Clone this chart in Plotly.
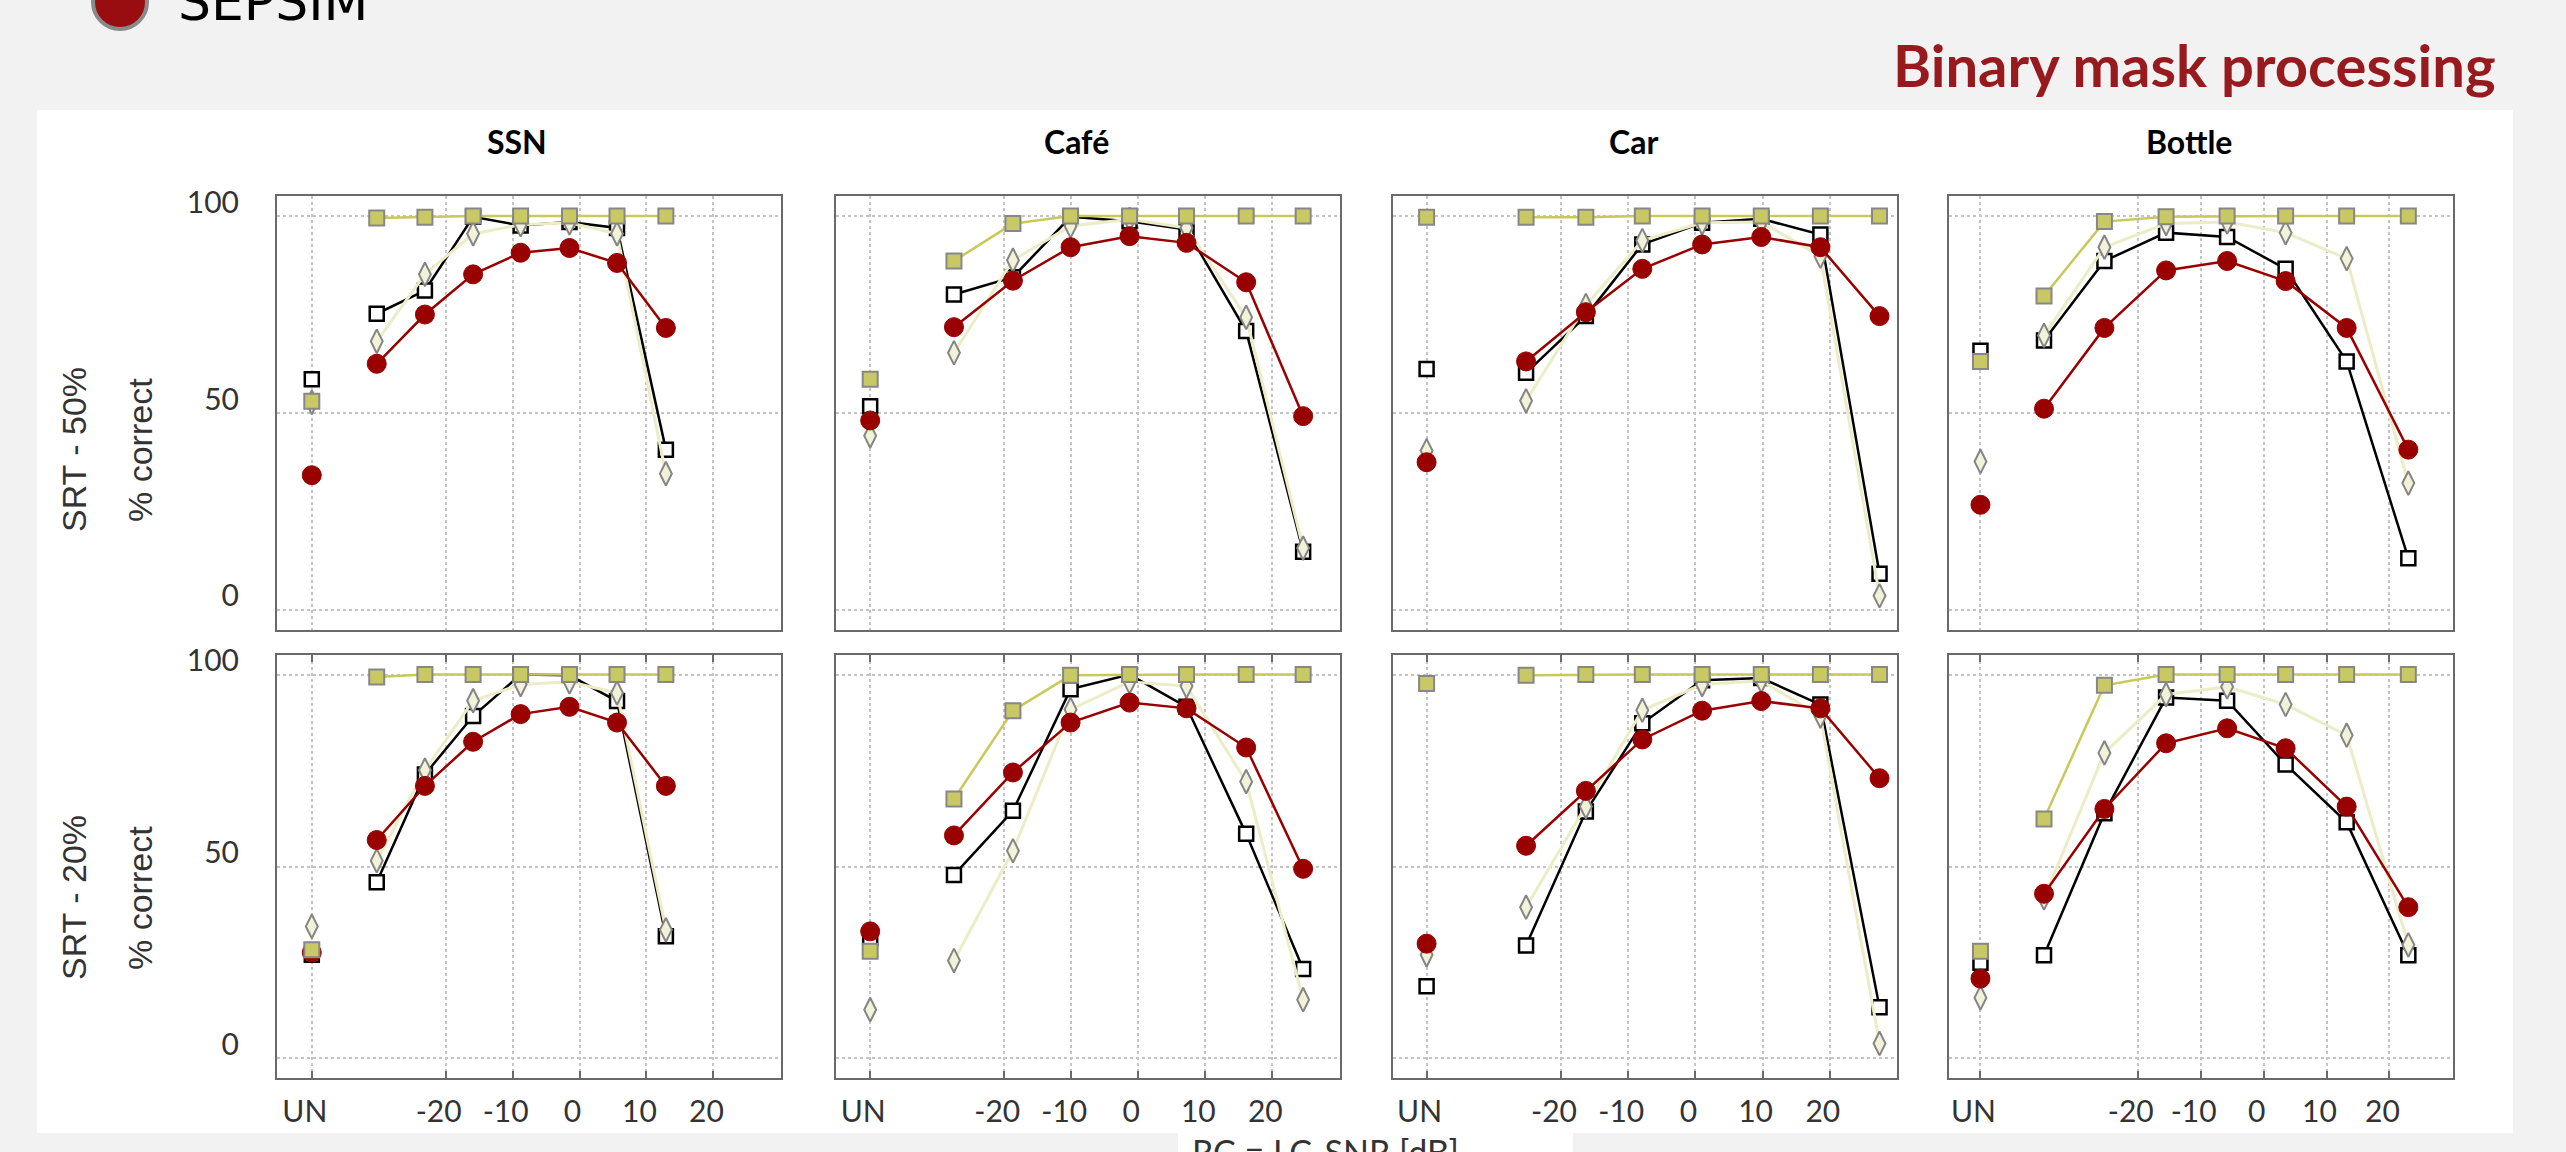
import plotly.graph_objects as go

# ---------------- data ----------------
noise_types = ["SSN", "Café", "Car", "Bottle"]
row_labels = ["SRT - 50%", "SRT - 20%"]
y_title = "% correct"
x_title = "RC = LC-SNR [dB]"
tick_text = ["UN", "-20", "-10", "0", "10", "20"]
tick_numbers = [-20, -10, 0, 10, 20]

# RC values (dB) of the seven processed conditions, per noise type
rc_ssn = [-30.3, -23.1, -15.9, -8.8, -1.5, 5.6, 12.9]
rc_cafe = [-27.5, -18.7, -10.1, -1.3, 7.2, 16.1, 24.6]
rc_car = [-25.2, -16.3, -7.9, 1.0, 9.8, 18.6, 27.4]
rc_bottle = [-34.9, -25.3, -15.5, -5.8, 3.5, 13.2, 23.0]
# position of the unprocessed (UN) condition on each x axis
un_position = [-40, -40, -40, -45]
x_min = [-45.2, -45.1, -45.0, -50.0]
x_max = [30.1, 30.1, 30.0, 30.1]

# % correct; first value = UN condition, then the seven RC conditions
# --- SRT - 50% ---
srt50_ssn_yellow = [53.0, 99.5, 99.7, 100, 100, 100, 100, 100]
srt50_ssn_black = [58.6, 75.2, 81.1, 99.8, 97.6, 98.5, 97.0, 40.7]
srt50_ssn_diamond = [52.7, 68.2, 85.2, 95.5, 97.8, 98.3, 95.5, 34.6]
srt50_ssn_red = [34.2, 62.5, 75.0, 85.2, 90.7, 91.9, 88.1, 71.6]

srt50_cafe_yellow = [58.6, 88.6, 98.1, 100, 100, 100, 100, 100]
srt50_cafe_black = [51.7, 80.1, 84.5, 99.8, 98.7, 96.6, 70.8, 14.8]
srt50_cafe_diamond = [44.2, 65.3, 88.8, 97.5, 99.2, 97.0, 74.3, 15.7]
srt50_cafe_red = [48.1, 71.8, 83.6, 92.1, 94.9, 93.2, 83.2, 49.2]

srt50_car_yellow = [99.7, 99.7, 99.7, 100, 100, 100, 100, 100]
srt50_car_black = [61.2, 60.2, 74.6, 92.8, 98.3, 99.3, 95.3, 9.2]
srt50_car_diamond = [40.4, 53.1, 77.3, 93.8, 98.3, 98.5, 89.8, 3.6]
srt50_car_red = [37.5, 63.1, 75.6, 86.6, 92.8, 94.7, 92.1, 74.6]

srt50_bottle_yellow = [63.1, 79.7, 98.6, 99.8, 100, 100, 100, 100]
srt50_bottle_black = [65.8, 68.4, 88.6, 95.8, 94.7, 86.6, 63.1, 13.1]
srt50_bottle_diamond = [37.7, 69.7, 92.1, 98.1, 98.5, 95.8, 89.2, 32.2]
srt50_bottle_red = [26.7, 51.1, 71.6, 86.2, 88.6, 83.5, 71.6, 40.7]

# --- SRT - 20% ---
srt20_ssn_yellow = [28.3, 99.4, 100, 100, 100, 100, 100, 100]
srt20_ssn_black = [27.0, 45.9, 74.0, 89.2, 100, 99.8, 93.1, 31.8]
srt20_ssn_diamond = [34.4, 51.5, 75.1, 93.2, 97.4, 98.1, 95.2, 33.5]
srt20_ssn_red = [27.6, 56.9, 71.0, 82.5, 89.7, 91.6, 87.5, 71.0]

srt20_cafe_yellow = [27.9, 67.6, 90.6, 99.8, 100, 100, 100, 100]
srt20_cafe_black = [31.4, 47.8, 64.5, 96.2, 100, 91.6, 58.5, 23.3]
srt20_cafe_diamond = [12.7, 25.5, 54.1, 90.9, 98.1, 97.0, 72.1, 15.3]
srt20_cafe_red = [33.1, 58.1, 74.5, 87.5, 92.7, 91.2, 81.0, 49.4]

srt20_car_yellow = [97.7, 99.8, 100, 100, 100, 100, 100, 100]
srt20_car_black = [18.8, 29.4, 64.3, 87.3, 98.5, 99.1, 92.2, 13.3]
srt20_car_diamond = [27.0, 39.4, 65.6, 90.7, 97.4, 98.4, 89.2, 3.9]
srt20_car_red = [29.9, 55.4, 69.7, 83.1, 90.6, 93.1, 91.2, 73.0]

srt20_bottle_yellow = [27.9, 62.4, 97.2, 100, 100, 100, 100, 100]
srt20_bottle_black = [24.9, 26.9, 63.9, 94.0, 93.2, 76.6, 61.5, 26.9]
srt20_bottle_diamond = [15.8, 41.8, 79.6, 94.8, 96.8, 92.2, 84.2, 29.6]
srt20_bottle_red = [20.8, 42.9, 65.0, 82.1, 86.0, 80.8, 65.6, 39.4]

# ---------------- tables built from the arrays ----------------
rc_values = [rc_ssn, rc_cafe, rc_car, rc_bottle]
panel_data = [
    [
        [srt50_ssn_black, srt50_ssn_diamond, srt50_ssn_red, srt50_ssn_yellow],
        [srt50_cafe_black, srt50_cafe_diamond, srt50_cafe_red, srt50_cafe_yellow],
        [srt50_car_black, srt50_car_diamond, srt50_car_red, srt50_car_yellow],
        [srt50_bottle_black, srt50_bottle_diamond, srt50_bottle_red, srt50_bottle_yellow],
    ],
    [
        [srt20_ssn_black, srt20_ssn_diamond, srt20_ssn_red, srt20_ssn_yellow],
        [srt20_cafe_black, srt20_cafe_diamond, srt20_cafe_red, srt20_cafe_yellow],
        [srt20_car_black, srt20_car_diamond, srt20_car_red, srt20_car_yellow],
        [srt20_bottle_black, srt20_bottle_diamond, srt20_bottle_red, srt20_bottle_yellow],
    ],
]

# ---------------- styles ----------------
W, H = 2566, 1152
series_styles = [
    dict(name="black squares", line=dict(color="#000000", width=2.5),
         marker=dict(symbol="square", size=14, color="#ffffff",
                     line=dict(color="#000000", width=2.5))),
    dict(name="diamonds", line=dict(color="#ececc6", width=3),
         marker=dict(symbol="diamond-tall", size=17, color="#f2f2d8",
                     line=dict(color="#858585", width=2))),
    dict(name="red circles", line=dict(color="#990000", width=2.5),
         marker=dict(symbol="circle", size=19, color="#990000",
                     line=dict(color="#990000", width=1))),
    dict(name="yellow squares", line=dict(color="#c9c95a", width=2.5),
         marker=dict(symbol="square", size=15, color="#c8c864",
                     line=dict(color="#878787", width=2))),
]

col_left_px = [277, 836, 1393, 1949]
col_width_px = 504
row_top_px = [196, 655]
row_bottom_px = [630, 1078]

def px_x(p):
    return p / W

def px_y(p):
    return 1 - p / H

fig = go.Figure()
layout = {}
tick_font = dict(family="Lato, Liberation Sans, sans-serif", size=30, color="#333333")

for r in range(2):
    for c in range(4):
        i = r * 4 + c + 1
        xid = "x" if i == 1 else f"x{i}"
        yid = "y" if i == 1 else f"y{i}"
        xa = "xaxis" if i == 1 else f"xaxis{i}"
        ya = "yaxis" if i == 1 else f"yaxis{i}"
        layout[xa] = dict(
            domain=[px_x(col_left_px[c]), px_x(col_left_px[c] + col_width_px)],
            range=[x_min[c], x_max[c]], anchor=yid,
            tickmode="array", tickvals=[un_position[c]] + tick_numbers, ticktext=tick_text,
            showticklabels=(r == 1), tickfont=tick_font,
            ticklabelstandoff=6, ticklabelshift=-7, automargin=False,
            showgrid=True, gridcolor="#c4c4c4", griddash="dot", gridwidth=1.5,
            showline=True, linecolor="#6a6a6a", linewidth=2,
            mirror="ticks" if r == 1 else True,
            ticks="inside" if r == 1 else "", ticklen=7, tickwidth=1.5, tickcolor="#6a6a6a",
            zeroline=False,
        )
        layout[ya] = dict(
            domain=[px_y(row_bottom_px[r]), px_y(row_top_px[r])],
            range=[-5.1, 105.1], anchor=xid,
            tickmode="array", tickvals=[0, 50, 100],
            showticklabels=(c == 0), tickfont=tick_font,
            ticklabelstandoff=30, ticklabelshift=-14, automargin=False,
            showgrid=True, gridcolor="#c4c4c4", griddash="dot", gridwidth=1.5,
            showline=True, linecolor="#6a6a6a", linewidth=2, mirror=True,
            ticks="", zeroline=False,
        )
        for s, style in enumerate(series_styles):
            vals = panel_data[r][c][s]
            fig.add_trace(go.Scatter(
                x=[un_position[c]], y=[vals[0]], mode="markers",
                marker=style["marker"], name=style["name"],
                xaxis=xid, yaxis=yid, showlegend=False, hoverinfo="x+y"))
            fig.add_trace(go.Scatter(
                x=rc_values[c], y=vals[1:], mode="lines+markers",
                line=style["line"], marker=style["marker"], name=style["name"],
                xaxis=xid, yaxis=yid, showlegend=False, hoverinfo="x+y"))

annotations = []
# column titles
for c, name in enumerate(noise_types):
    annotations.append(dict(
        text=f"<b>{name}</b>", xref="paper", yref="paper",
        x=px_x(col_left_px[c] + col_width_px / 2 - 12), y=px_y(142),
        xanchor="center", yanchor="middle", showarrow=False,
        font=dict(family="Lato, Liberation Sans, sans-serif", size=32, color="#000000")))
# row titles
row_centers = [450, 898]
for r, lab in enumerate(row_labels):
    annotations.append(dict(
        text=lab, xref="paper", yref="paper", x=px_x(74), y=px_y(row_centers[r]),
        xanchor="center", yanchor="middle", textangle=-90, showarrow=False,
        font=dict(family="Liberation Sans, sans-serif", size=34, color="#333333")))
    annotations.append(dict(
        text=y_title, xref="paper", yref="paper", x=px_x(140), y=px_y(row_centers[r]),
        xanchor="center", yanchor="middle", textangle=-90, showarrow=False,
        font=dict(family="Liberation Sans, sans-serif", size=34, color="#333333")))
# slide title
annotations.append(dict(
    text="<b>Binary mask processing</b>", xref="paper", yref="paper",
    x=px_x(2498), y=px_y(64), xanchor="right", yanchor="middle", showarrow=False,
    font=dict(family="Lato, Liberation Sans, sans-serif", size=58, color="#961a1e")))
# logo text (cut off by the top edge)
annotations.append(dict(
    text="SEPSIM", xref="paper", yref="paper",
    x=px_x(176), y=px_y(34), xanchor="left", yanchor="bottom", showarrow=False,
    font=dict(family="DejaVu Sans, sans-serif", size=52, color="#000000")))
# shared x label (cut off by the bottom edge)
annotations.append(dict(
    text=x_title, xref="paper", yref="paper",
    x=px_x(1325), y=px_y(1129), xanchor="center", yanchor="top", showarrow=False,
    font=dict(family="Lato, Liberation Sans, sans-serif", size=34, color="#333333")))

shapes = [
    dict(type="rect", xref="paper", yref="paper", x0=px_x(37), x1=px_x(2513),
         y0=px_y(1133), y1=px_y(110), fillcolor="#ffffff", line=dict(width=0), layer="below"),
    dict(type="rect", xref="paper", yref="paper", x0=px_x(1178), x1=px_x(1573),
         y0=px_y(1160), y1=px_y(1130), fillcolor="#ffffff", line=dict(width=0), layer="below"),
    dict(type="circle", xref="paper", yref="paper", x0=px_x(93), x1=px_x(147),
         y0=px_y(29), y1=px_y(-25), fillcolor="#990c0f", line=dict(color="#8a8a8a", width=4),
         layer="above"),
]

fig.update_layout(
    width=W, height=H, autosize=False,
    margin=dict(l=0, r=0, t=0, b=0, pad=0, autoexpand=False),
    paper_bgcolor="#f2f2f2", plot_bgcolor="#ffffff",
    showlegend=False, annotations=annotations, shapes=shapes,
    **layout,
)

fig.write_html(
    "out.html",
    config={"displayModeBar": False},
    post_script=(
        "document.documentElement.style.margin='0';"
        "document.body.style.margin='0';document.body.style.padding='0';"
        "document.body.style.overflow='hidden';"
        "var gd=document.getElementById('{plot_id}');"
        "gd.style.position='fixed';gd.style.top='0px';gd.style.left='0px';"
        "window.scrollTo(0,0);"
    ),
)
